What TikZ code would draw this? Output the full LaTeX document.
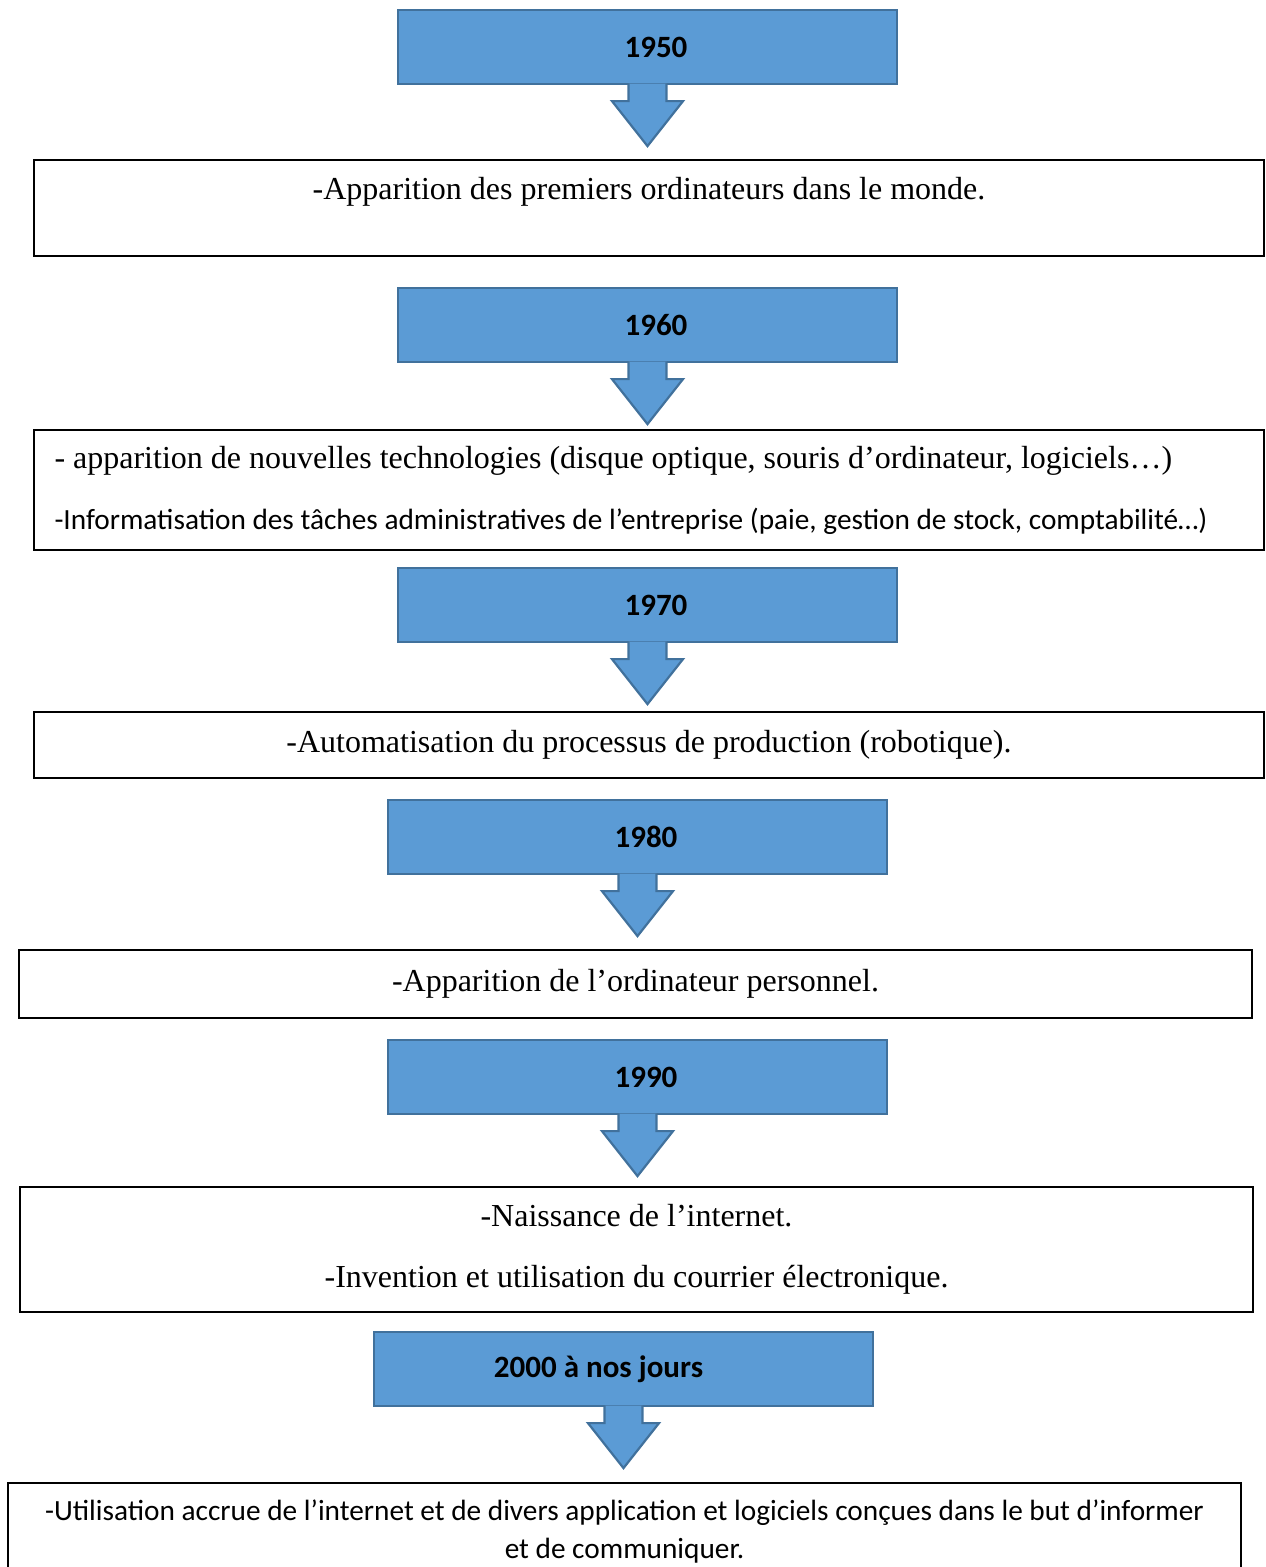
\documentclass[tikz,border=0pt]{standalone}
\usepackage{fontspec}
\setmainfont{Liberation Serif}
\newfontfamily\calibri{Carlito}
\usetikzlibrary{positioning}
\definecolor{wordblue}{HTML}{5B9BD5}
\definecolor{wordedge}{HTML}{41719C}
\tikzset{
  yearbox/.style={
    rectangle, draw=wordedge, fill=wordblue, line width=2.2pt,
    minimum width=499pt, minimum height=74pt, inner sep=0pt,
    font=\calibri\bfseries\fontsize{31}{37}\selectfont
  },
  downarrow/.style={
    draw=wordedge, fill=wordblue, line width=2.2pt, line join=miter
  },
  eventbox/.style={
    rectangle, draw=black, line width=2pt, inner sep=0pt,
    align=center, font=\fontsize{32}{38}\selectfont
  },
}

\begin{document}
\begin{tikzpicture}[x=1pt, y=-1pt]
  \useasboundingbox (0,0) rectangle (1266,1567);
  % years
  \node[yearbox] (y1950) at (647.5,47) {\hspace*{17pt}1950};
  \node[yearbox] (y1960) at (647.5,325) {\hspace*{17pt}1960};
  \node[yearbox] (y1970) at (647.5,605) {\hspace*{17pt}1970};
  \node[yearbox] (y1980) at (637.5,837) {\hspace*{17pt}1980};
  \node[yearbox] (y1990) at (637.5,1077) {\hspace*{17pt}1990};
  \node[yearbox] (y2000) at (623.5,1369) {2000 à nos jours\hspace*{50pt}};
  \foreach \yr in {y1950,y1960,y1970,y1980,y1990,y2000}
    \path[downarrow, shift={(\yr.south)}] (-19,-1.5) -- (-19,16) -- (-35.5,16)
      -- (0,61) -- (35.5,16) -- (19,16) -- (19,-1.5);
  % events
  \node[eventbox, minimum width=1230pt, minimum height=96pt, text depth=39pt] (e1950) at (649,208)
    {-Apparition des premiers ordinateurs dans le monde.};
  \node[eventbox, minimum width=1230pt, minimum height=120pt, text width=1189pt, align=flush left,
    inner xsep=20.5pt, font=\fontsize{32}{61}\selectfont] (e1960) at (649,490)
    {\mbox{- apparition de nouvelles technologies (disque optique, souris d’ordinateur, logiciels…)}\\
     \mbox{\calibri\fontsize{29.3}{61}\selectfont -Informatisation des tâches administratives de l’entreprise (paie, gestion de stock, comptabilité…)}};
  \node[eventbox, minimum width=1230pt, minimum height=66pt] (e1970) at (649,745)
    {-Automatisation du processus de production (robotique).};
  \node[eventbox, minimum width=1233pt, minimum height=68pt] (e1980) at (635.5,984)
    {-Apparition de l’ordinateur personnel.};
  \node[eventbox, minimum width=1233pt, minimum height=125pt, font=\fontsize{32}{61}\selectfont] (e1990) at (636.5,1249.5)
    {-Naissance de l’internet.\\ -Invention et utilisation du courrier électronique.};
  \node[eventbox, minimum width=1233pt, minimum height=98pt, font=\calibri\fontsize{29.3}{38}\selectfont] (e2000) at (624.5,1532)
    {-Utilisation accrue de l’internet et de divers application et logiciels conçues dans le but d’informer\\ et de communiquer.};
\end{tikzpicture}
\end{document}
